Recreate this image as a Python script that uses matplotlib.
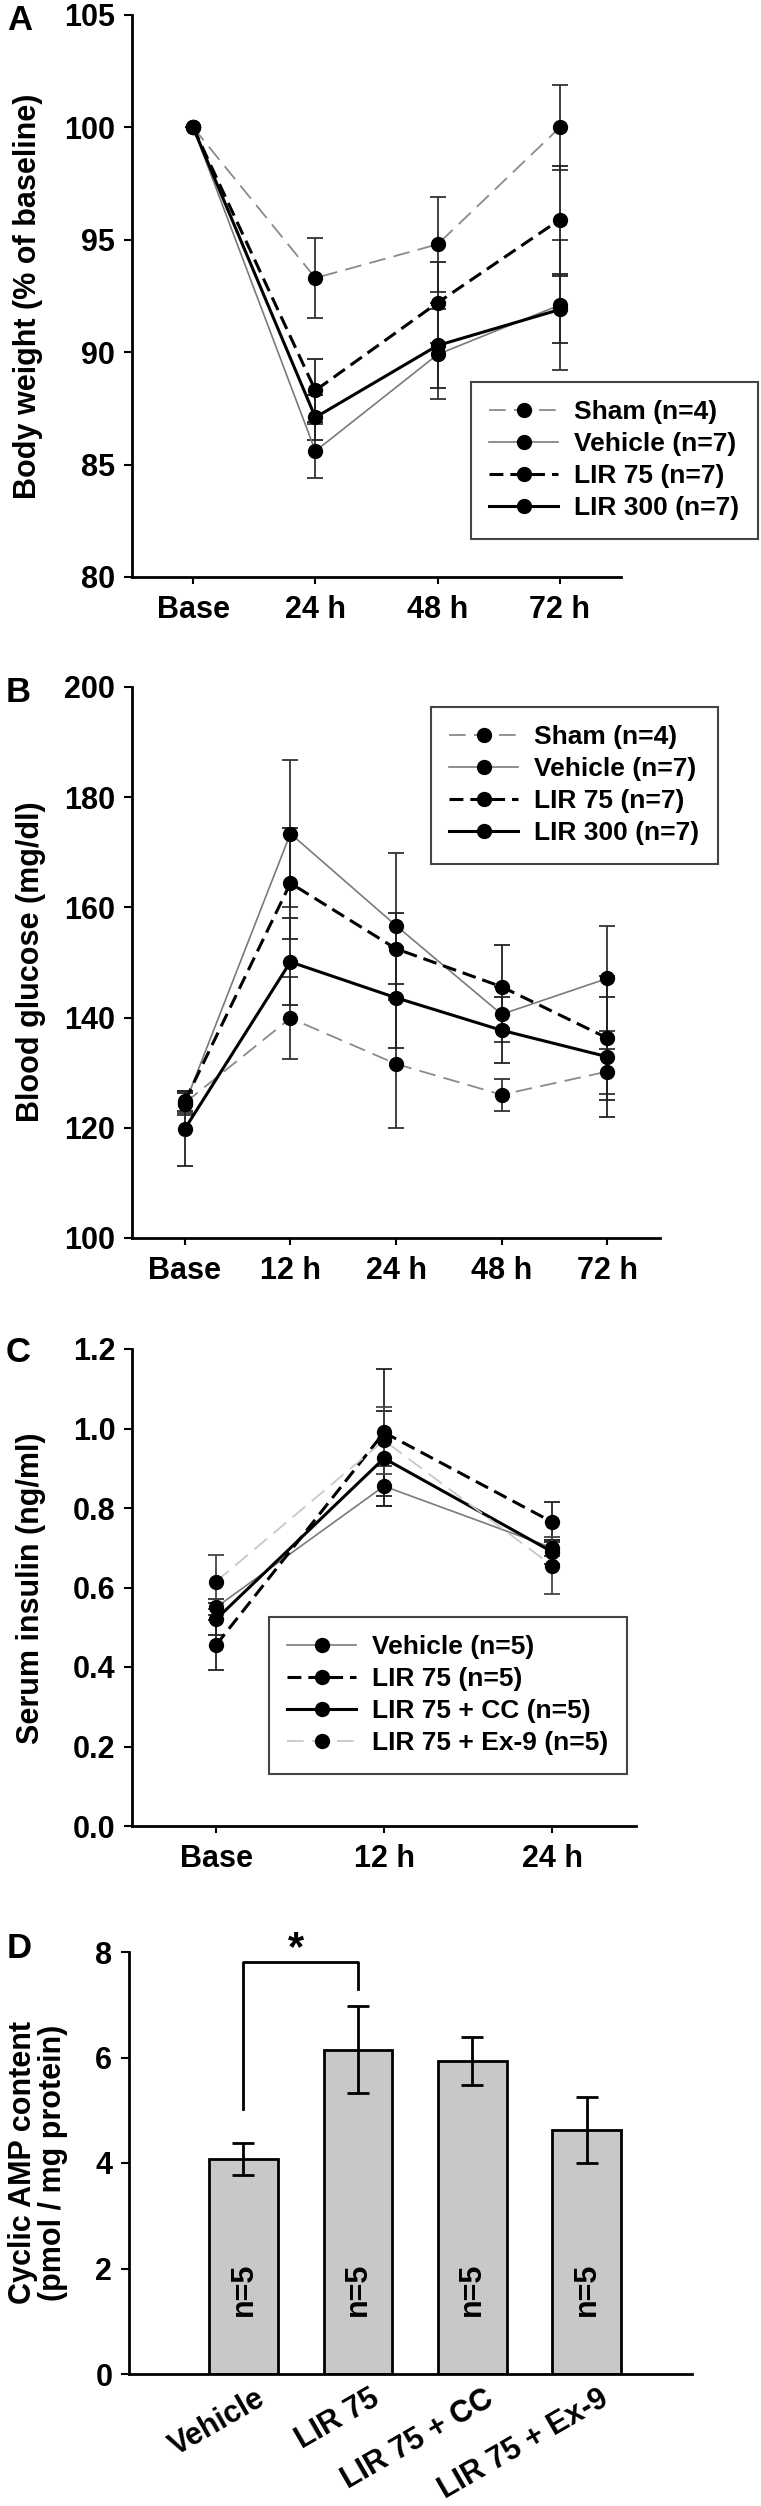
import matplotlib
matplotlib.use('Agg')
import matplotlib.pyplot as plt
import matplotlib.transforms as mtransforms
import numpy as np

plt.rcParams['font.family'] = ['Liberation Sans', 'DejaVu Sans']
plt.rcParams['font.weight'] = 'bold'
plt.rcParams['axes.labelweight'] = 'bold'
plt.rcParams['lines.scale_dashes'] = False

# ---- data ----
# A: body weight (% of baseline)
a_times = ['Base', '24 h', '48 h', '72 h']
sham_bw = [100, 93.3, 94.8, 100.0]
sham_bw_err = [0, 1.8, 2.1, 1.9]
veh_bw = [100, 85.6, 89.9, 92.1]
veh_bw_err = [0, 1.2, 2.0, 2.9]
lir75_bw = [100, 88.3, 92.2, 95.9]
lir75_bw_err = [0, 1.4, 1.8, 2.4]
lir300_bw = [100, 87.1, 90.3, 91.9]
lir300_bw_err = [0, 1.0, 1.9, 1.5]

# B: blood glucose (mg/dl)
b_times = ['Base', '12 h', '24 h', '48 h', '72 h']
sham_bg = [124.5, 139.9, 131.6, 126.0, 130.2]
sham_bg_err = [1.8, 7.4, 11.6, 2.9, 4.1]
veh_bg = [124.3, 173.4, 156.7, 140.6, 147.1]
veh_bg_err = [2.0, 13.4, 13.1, 5.0, 9.5]
lir75_bg = [124.8, 164.4, 152.5, 145.6, 136.3]
lir75_bg_err = [1.8, 10.1, 6.4, 7.5, 11.3]
lir300_bg = [119.8, 150.1, 143.6, 137.7, 132.9]
lir300_bg_err = [6.8, 7.9, 9.2, 6.0, 10.9]

# C: serum insulin (ng/ml)
c_times = ['Base', '12 h', '24 h']
veh_ins = [0.55, 0.855, 0.70]
veh_ins_err = [0.02, 0.05, 0.02]
lir75_ins = [0.455, 0.99, 0.765]
lir75_ins_err = [0.063, 0.16, 0.05]
cc_ins = [0.52, 0.925, 0.69]
cc_ins_err = [0.04, 0.12, 0.03]
ex9_ins = [0.615, 0.97, 0.655]
ex9_ins_err = [0.068, 0.085, 0.072]

# D: cyclic AMP content
d_groups = ['Vehicle', 'LIR 75', 'LIR 75 + CC', 'LIR 75 + Ex-9']
camp = [4.07, 6.15, 5.93, 4.63]
camp_err = [0.30, 0.82, 0.46, 0.63]
d_n = ['n=5', 'n=5', 'n=5', 'n=5']

# ---- figure ----
W, H = 761, 2506
fig = plt.figure(figsize=(W / 100, H / 100), dpi=100)
FS = 22


def box(l, r, t, b):
    return [l / W, 1 - b / H, (r - l) / W, (b - t) / H]


def style_axis(ax):
    ax.spines['top'].set_visible(False)
    ax.spines['right'].set_visible(False)
    ax.spines['left'].set_linewidth(2)
    ax.spines['bottom'].set_linewidth(2)
    ax.tick_params(axis='y', length=6, width=1.5, labelsize=FS, pad=6)
    ax.tick_params(axis='x', length=5, width=1.5, labelsize=FS, pad=8)


def series(ax, x, y, err, color, ls, lw, ecolor, label):
    ax.errorbar(x, y, yerr=err, fmt='none', ecolor=ecolor, elinewidth=1.3,
                capsize=6, capthick=1.3, zorder=2)
    line, = ax.plot(x, y, color=color, linestyle='-', linewidth=lw,
                    marker='o', markersize=10, markerfacecolor='black',
                    markeredgecolor='black', zorder=3, label=label)
    if ls is not None:
        line.set_dashes(ls)
    return line


def legend(ax, x, y):
    leg = ax.legend(loc='upper left', bbox_to_anchor=(x / W, 1 - y / H),
                    bbox_transform=fig.transFigure, borderaxespad=0,
                    fontsize=19, handlelength=2.6, handletextpad=0.6,
                    labelspacing=0.3, borderpad=0.7, fancybox=False,
                    framealpha=1)
    leg.get_frame().set_edgecolor('#444444')
    leg.get_frame().set_linewidth(1.5)
    return leg


# Panel A
ax1 = fig.add_axes(box(132, 621, 15, 577))
x = np.arange(len(a_times))
series(ax1, x, sham_bw, sham_bw_err, '#8a8a8a', (12, 6), 1.3, '#333333', 'Sham (n=4)')
series(ax1, x, veh_bw, veh_bw_err, '#7a7a7a', None, 1.2, '#333333', 'Vehicle (n=7)')
series(ax1, x, lir75_bw, lir75_bw_err, 'black', (10, 5), 2.2, '#222222', 'LIR 75 (n=7)')
series(ax1, x, lir300_bw, lir300_bw_err, 'black', None, 2.2, '#222222', 'LIR 300 (n=7)')
ax1.set_xlim(-0.5, 3.5)
ax1.set_ylim(80, 105)
ax1.set_xticks(x)
ax1.set_xticklabels(a_times)
ax1.set_yticks(np.arange(80, 106, 5))
style_axis(ax1)
legend(ax1, 471, 382)

# Panel B
ax2 = fig.add_axes(box(132, 660, 687, 1238))
x = np.arange(len(b_times))
series(ax2, x, sham_bg, sham_bg_err, '#8a8a8a', (12, 6), 1.3, '#333333', 'Sham (n=4)')
series(ax2, x, veh_bg, veh_bg_err, '#7a7a7a', None, 1.2, '#333333', 'Vehicle (n=7)')
series(ax2, x, lir75_bg, lir75_bg_err, 'black', (10, 5), 2.2, '#222222', 'LIR 75 (n=7)')
series(ax2, x, lir300_bg, lir300_bg_err, 'black', None, 2.2, '#222222', 'LIR 300 (n=7)')
ax2.set_xlim(-0.5, 4.5)
ax2.set_ylim(100, 200)
ax2.set_xticks(x)
ax2.set_xticklabels(b_times)
ax2.set_yticks(np.arange(100, 201, 20))
style_axis(ax2)
legend(ax2, 431, 707)

# Panel C
ax3 = fig.add_axes(box(132, 636, 1349, 1826))
x = np.arange(len(c_times))
series(ax3, x, veh_ins, veh_ins_err, '#7a7a7a', None, 1.2, '#333333', 'Vehicle (n=5)')
series(ax3, x, lir75_ins, lir75_ins_err, 'black', (10, 5), 2.2, '#222222', 'LIR 75 (n=5)')
series(ax3, x, cc_ins, cc_ins_err, 'black', None, 2.2, '#222222', 'LIR 75 + CC (n=5)')
series(ax3, x, ex9_ins, ex9_ins_err, '#c8c8c8', (12, 6), 1.3, '#444444', 'LIR 75 + Ex-9 (n=5)')
ax3.set_xlim(-0.5, 2.5)
ax3.set_ylim(0, 1.2)
ax3.set_xticks(x)
ax3.set_xticklabels(c_times)
ax3.set_yticks(np.arange(0, 1.21, 0.2))
ax3.set_yticklabels(['%.1f' % v for v in np.arange(0, 1.21, 0.2)])
style_axis(ax3)
legend(ax3, 269, 1617)

# Panel D
ax4 = fig.add_axes(box(129, 692, 1952, 2374))
x = np.arange(len(d_groups))
ax4.bar(x, camp, width=0.6, color='#c8c8c8', edgecolor='black', linewidth=2, zorder=2)
ax4.errorbar(x, camp, yerr=camp_err, fmt='none', ecolor='black', elinewidth=2,
             capsize=8, capthick=2, zorder=3)
for xi, t in zip(x, d_n):
    ax4.text(xi, 1.6, t, rotation=90, ha='center', va='center', fontsize=FS,
             fontweight='bold', zorder=4)
ax4.plot([0, 0, 1, 1], [5.03, 7.81, 7.81, 7.3], color='black', linewidth=2,
         clip_on=False)
ax4.text(0.46, 8.05, '*', ha='center', va='center', fontsize=30,
         fontweight='bold', clip_on=False)
ax4.set_xlim(-1, 3.92)
ax4.set_ylim(0, 8)
ax4.set_xticks(x)
ax4.set_xticklabels(d_groups, rotation=30, ha='right', rotation_mode='anchor')
ax4.set_yticks(np.arange(0, 9, 2))
style_axis(ax4)
ax4.tick_params(axis='x', length=0, pad=7)
offset = mtransforms.ScaledTranslation(0.12, 0, fig.dpi_scale_trans)
for lab in ax4.get_xticklabels():
    lab.set_transform(lab.get_transform() + offset)

# y labels and panel letters
fig.text(28 / W, 1 - 296 / H, 'Body weight (% of baseline)', rotation=90,
         ha='center', va='center', fontsize=FS, fontweight='bold')
fig.text(31 / W, 1 - 962 / H, 'Blood glucose (mg/dl)', rotation=90,
         ha='center', va='center', fontsize=FS, fontweight='bold')
fig.text(31 / W, 1 - 1588 / H, 'Serum insulin (ng/ml)', rotation=90,
         ha='center', va='center', fontsize=FS, fontweight='bold')
fig.text(38 / W, 1 - 2163 / H, 'Cyclic AMP content\n(pmol / mg protein)', rotation=90,
         ha='center', va='center', fontsize=FS, fontweight='bold',
         multialignment='center', linespacing=1.0)

for letter, (lx, ly) in zip('ABCD', [(20, 21), (18, 692), (18, 1353), (19, 1948)]):
    fig.text(lx / W, 1 - ly / H, letter, ha='center', va='center',
             fontsize=25, fontweight='bold')

fig.savefig('out.png', dpi=100)
